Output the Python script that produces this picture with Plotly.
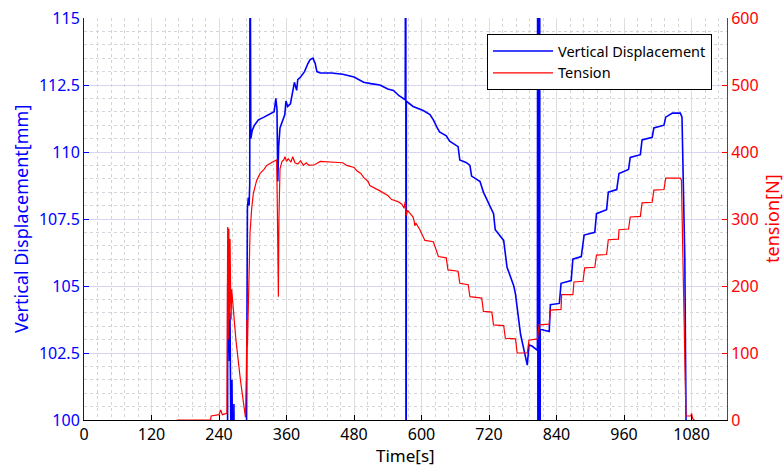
import plotly.graph_objects as go

# ---------------- data ----------------
time_disp = [250, 255, 255.5, 256.5, 257.5, 258.5, 259.5, 260.5, 262, 263, 265.5, 266.5, 268, 288,
             289.2, 290.5, 292.1, 293.5, 294.6, 295.2, 296.5, 299, 303, 310, 320, 330, 338,
             341, 343, 344.5, 346, 348.4, 352, 357, 359, 362, 367, 371, 374, 378, 380, 385,
             392, 398, 402, 407, 411, 414, 420, 440, 460, 480, 497, 510, 526, 540, 550, 560,
             571, 572, 572.5, 573, 585, 603, 615, 621, 628, 632, 644, 650, 665, 668, 680, 686,
             689, 704, 710, 722, 728, 731, 746, 752, 764, 767, 776, 788, 791, 797, 806, 806.5,
             807, 810, 810.5, 811, 818, 827, 829, 845, 848, 866, 869, 884, 889, 908, 911, 929,
             932, 947, 951, 968, 971, 989, 992, 1010, 1013, 1031, 1034, 1046, 1060, 1063, 1068,
             1071, 1072]
vertical_displacement = [95, 95, 105.1, 102.5, 104.6, 102.2, 104.0, 101.8, 97, 101.5, 96, 100.6, 95, 95,
                         107.6, 107.9, 108.3, 108.0, 108.8, 120, 110.5, 110.8, 111.0, 111.2, 111.3, 111.4, 111.5,
                         112.0, 111.6, 108.9, 110.2, 110.9, 111.1, 111.4, 111.9, 111.7, 111.8, 112.3, 112.6, 112.3, 112.7, 112.8,
                         113.0, 113.3, 113.45, 113.5, 113.3, 113.0, 112.95, 112.95, 112.9, 112.8, 112.6, 112.55, 112.5, 112.35, 112.3, 112.1,
                         111.95, 125, 85, 111.9, 111.7, 111.55, 111.4, 111.2, 110.9, 110.75, 110.6, 110.4, 110.2, 109.7, 109.6, 109.5,
                         109.1, 108.9, 108.5, 108.0, 107.7, 107.1, 106.7, 105.7, 105.0, 104.7, 103.2, 102.05, 102.8, 102.75, 102.6, 125,
                         85, 125, 85, 103.4, 103.35, 103.3, 104.3, 104.35, 105.1, 105.2, 106.0, 106.1, 106.9, 107.0, 107.7, 107.85,
                         108.5, 108.6, 109.2, 109.35, 109.8, 109.9, 110.45, 110.55, 110.9, 111.0, 111.3, 111.45, 111.45, 111.3, 106.0,
                         101.5, 95]

time_tension = [165, 225, 226, 240, 243, 246, 254, 255.4, 256.5, 257.5, 258.5, 259.6, 260.5, 261.5,
                262.5, 270, 278, 285, 287, 288.5, 289.5, 290.5, 292.1, 295.1, 298, 301, 307, 313,
                320, 325, 335, 342.5, 343.5, 345.5, 346.5, 348.4, 352, 355, 357.3, 360, 363, 368,
                371, 375, 380, 385, 390, 395, 400, 410, 420, 440, 460, 467, 480, 485, 492, 497,
                505, 508, 520, 526, 540, 547, 558, 565, 569, 571, 573, 575, 580, 585, 587, 588,
                590, 597, 606, 621, 630, 644, 647, 665, 668, 683, 686, 707, 710, 725, 728, 746,
                749, 767, 770, 788, 791, 806, 809, 827, 829, 848, 849, 869, 871, 887, 890, 908,
                911, 929, 932, 950, 951, 968, 971, 989, 992, 1010, 1013, 1031, 1034, 1060, 1062,
                1066, 1069, 1070, 1079, 1080, 1082, 1085]
tension = [0, 0, 6, 8, 15, 8, 10, 288, 120, 286, 150, 270, 200, 150,
           195, 120, 60, 15, 4, 60, 150, 110, 170, 279, 315, 338, 358, 368,
           374, 380, 385, 388, 330, 184, 300, 375, 386, 388, 393, 386, 390, 385,
           393, 384, 382, 387, 380, 384, 380, 381, 386, 385, 384, 380, 377, 372, 368, 362,
           356, 350, 345, 342, 335, 329, 326, 322, 316, 326, 305, 313, 308, 303, 296, 290,
           294, 284, 268, 266, 244, 242, 224, 222, 204, 202, 184, 182, 162, 161, 142, 141,
           122, 121, 100, 100, 119, 121, 142, 143, 164, 165, 187, 187, 206, 207, 227, 228,
           246, 247, 269, 270, 284, 285, 303, 304, 324, 325, 343, 344, 361, 361, 358,
           150, 10, 6, 6, 10, 2, 0]

x_ticks = [0, 120, 240, 360, 480, 600, 720, 840, 960, 1080]
y_ticks = [100, 102.5, 105, 107.5, 110, 112.5, 115]
y_tick_text = ["100", "102.5", "105", "107.5", "110", "112.5", "115"]
y2_ticks = [0, 100, 200, 300, 400, 500, 600]

BLUE = "#0000FF"
RED = "#FF0000"
FONT = "Noto Sans"

W, H = 784, 468
L, R, T, B = 84, 57, 18, 48
PW = W - L - R
PH = H - T - B

fig = go.Figure()
fig.add_trace(go.Scatter(x=time_disp, y=vertical_displacement, mode="lines",
                         name="Vertical Displacement", line=dict(color=BLUE, width=1.6),
                         yaxis="y"))
fig.add_trace(go.Scatter(x=time_tension, y=tension, mode="lines",
                         name="Tension", line=dict(color=RED, width=1.2),
                         yaxis="y2"))

fig.update_layout(
    width=W, height=H,
    margin=dict(l=L, r=R, t=T, b=B, autoexpand=False),
    paper_bgcolor="white", plot_bgcolor="white",
    font=dict(family=FONT, size=16, color="black"),
    showlegend=True,
    legend=dict(x=(712 - L) / PW, y=(H - B - 34) / PH, xanchor="right", yanchor="top",
                bgcolor="white", bordercolor="black", borderwidth=1,
                font=dict(family=FONT, size=14.5, color="black"),
                itemwidth=60, tracegroupgap=0),
    xaxis=dict(range=[0, 1143], tickmode="array", tickvals=x_ticks, automargin=False,
               ticks="inside", ticklen=5, tickcolor="black", tickwidth=1,
               showline=True, linecolor="black", linewidth=1, mirror=False,
               showgrid=True, gridcolor="#dedede", gridwidth=1,
               minor=dict(dtick=24, tick0=0, showgrid=True, gridcolor="#d4d4d4",
                          griddash="dot", gridwidth=1, ticks=""),
               zeroline=False,
               tickfont=dict(family=FONT, size=16, color="black")),
    yaxis=dict(range=[100, 115], tickmode="array", tickvals=y_ticks, ticktext=y_tick_text,
               automargin=False,
               ticks="inside", ticklen=5, tickcolor=BLUE, tickwidth=1,
               showline=True, linecolor=BLUE, linewidth=1,
               showgrid=True, gridcolor="#d6d6f2", gridwidth=1,
               minor=dict(dtick=0.5, tick0=100, showgrid=True, gridcolor="#d4d4dc",
                          griddash="dot", gridwidth=1, ticks=""),
               zeroline=False,
               tickfont=dict(family=FONT, size=16, color=BLUE)),
    yaxis2=dict(range=[0, 600], tickmode="array", tickvals=y2_ticks, automargin=False,
                overlaying="y", side="right", anchor="x",
                ticks="inside", ticklen=5, tickcolor=RED, tickwidth=1,
                showline=True, linecolor=RED, linewidth=1,
                showgrid=False, zeroline=False,
                tickfont=dict(family=FONT, size=16, color=RED)),
    annotations=[
        dict(text="Time[s]", xref="paper", yref="paper", x=0.5, y=(H - B - 455) / PH,
             xanchor="center", yanchor="middle", showarrow=False,
             font=dict(family=FONT, size=17, color="black")),
        dict(text="Vertical Displacement[mm]", xref="paper", yref="paper",
             x=(21 - L) / PW, y=0.5, xanchor="center", yanchor="middle", textangle=-90,
             showarrow=False, font=dict(family=FONT, size=18, color=BLUE)),
        dict(text="tension[N]", xref="paper", yref="paper",
             x=(772 - L) / PW, y=0.5, xanchor="center", yanchor="middle", textangle=-90,
             showarrow=False, font=dict(family=FONT, size=18, color=RED)),
    ],
)

fig.write_html("out.html", config={"displayModeBar": False},
               post_script="document.body.style.margin='0';document.body.style.padding='0';")
